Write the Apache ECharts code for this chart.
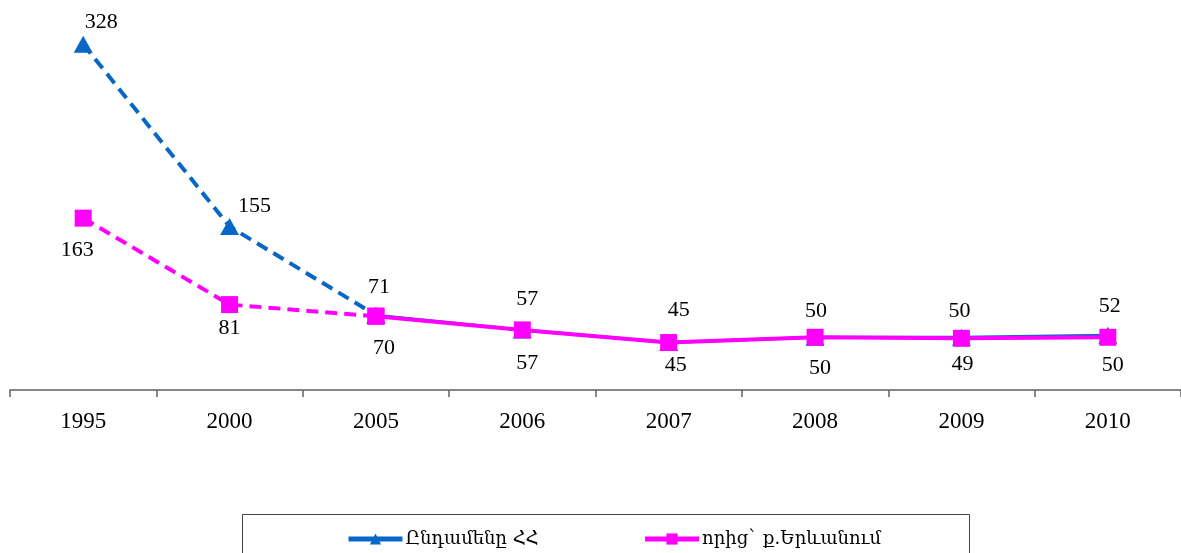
<!DOCTYPE html>
<html>
<head>
<meta charset="utf-8">
<script src="https://cdn.jsdelivr.net/npm/echarts@6/dist/echarts.min.js"></script>
<style>
  html, body { margin: 0; padding: 0; background: #fff; }
  #chart { width: 1181px; height: 553px; }
</style>
</head>
<body>
<div id="chart"></div>
<script>
const years = ['1995', '2000', '2005', '2006', '2007', '2008', '2009', '2010'];
const totalArmenia = [328, 155, 71, 57, 45, 50, 50, 52];
const yerevan = [163, 81, 70, 57, 45, 50, 49, 50];
const seriesNames = ['Ընդամենը ՀՀ', 'որից` ք.Երևանում'];

// first three points are joined by a dashed line, the rest solid
const dashEnd = 2;

// label nudges relative to the marker centre
const blueLabelShift = [[18, -22], [25, -20], [3, -28], [5, -31], [10, -32], [1, -26], [-2, -26], [2, -29]];
const pinkLabelShift = [[-6, 32], [0, 24], [8, 32], [5, 33], [7, 23], [5, 31], [1, 26], [5, 28]];

const BLUE = '#0866C6';
const PINK = '#FF00FF';
const FONT = 'Liberation Serif';

function part(values, dashed) {
  return values.map((v, i) => (dashed ? i <= dashEnd : i >= dashEnd) ? v : null);
}

function labelled(values, shifts, dashed) {
  return part(values, dashed).map((v, i) => {
    if (v === null) return null;
    const show = dashed ? i < dashEnd : i >= dashEnd;
    return {
      value: v,
      label: { show: show, position: 'inside', offset: shifts[i] }
    };
  });
}

const labelStyle = { color: '#000', fontFamily: FONT, fontSize: 22 };

const chart = echarts.init(document.getElementById('chart'));
chart.setOption({
  animation: false,
  grid: { left: 10, top: 21, width: 1174, height: 369 },
  xAxis: {
    type: 'category',
    data: years,
    boundaryGap: true,
    axisLine: { lineStyle: { color: '#606060', width: 1.5 } },
    axisTick: { show: true, length: 7, lineStyle: { color: '#606060', width: 1.5 } },
    axisLabel: { color: '#000', fontFamily: FONT, fontSize: 23, margin: 20 }
  },
  yAxis: {
    type: 'value',
    min: 0,
    max: 350,
    show: false
  },
  legend: {
    left: 346,
    top: 530,
    padding: 0,
    itemWidth: 54,
    itemHeight: 14,
    itemGap: 104,
    data: seriesNames,
    lineStyle: { width: 5 },
    textStyle: { color: '#000', fontFamily: 'DejaVu Serif', fontSize: 18, padding: [0, 0, 0, -2] }
  },
  graphic: [{
    type: 'rect',
    shape: { x: 242.5, y: 514.5, width: 727, height: 60 },
    style: { fill: 'none', stroke: '#444', lineWidth: 1 },
    silent: true
  }],
  series: [
    {
      name: seriesNames[0],
      type: 'line',
      data: labelled(totalArmenia, blueLabelShift, false),
      symbol: 'triangle',
      symbolSize: [19, 17],
      color: BLUE,
      lineStyle: { color: BLUE, width: 3 },
      label: labelStyle,
      z: 2
    },
    {
      name: seriesNames[1],
      type: 'line',
      data: labelled(yerevan, pinkLabelShift, false),
      symbol: 'rect',
      symbolSize: 17,
      color: PINK,
      lineStyle: { color: PINK, width: 4 },
      label: labelStyle,
      z: 4
    },
    {
      name: seriesNames[0],
      type: 'line',
      data: labelled(totalArmenia, blueLabelShift, true),
      symbol: 'triangle',
      symbolSize: [19, 17],
      color: BLUE,
      lineStyle: { color: BLUE, width: 4, type: [12, 7] },
      label: labelStyle,
      z: 3
    },
    {
      name: seriesNames[1],
      type: 'line',
      data: labelled(yerevan, pinkLabelShift, true),
      symbol: 'rect',
      symbolSize: 17,
      color: PINK,
      lineStyle: { color: PINK, width: 4, type: [12, 7] },
      label: labelStyle,
      z: 3
    }
  ]
});
</script>
</body>
</html>
